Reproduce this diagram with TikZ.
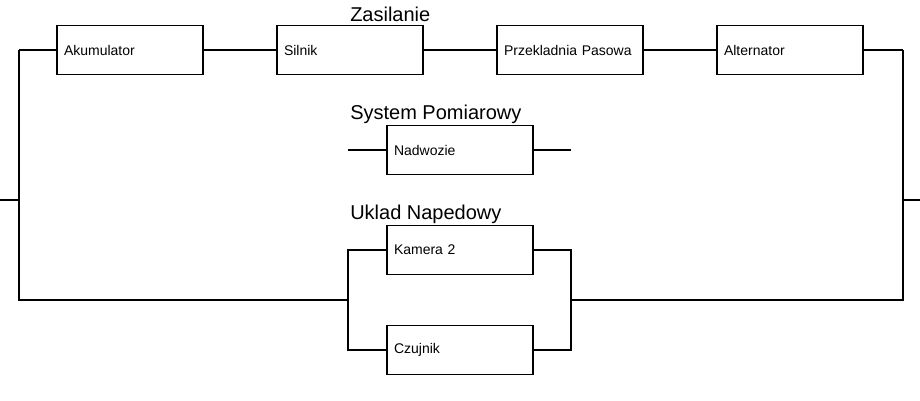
\documentclass[tikz,border=0pt]{standalone}
\usepackage{fontspec}
\setmainfont{Liberation Sans}
\begin{document}
\begin{tikzpicture}[x=0.75pt,y=-0.75pt,
  box/.style={draw, line width=1.1pt, minimum height=36.75pt, inner xsep=5.25pt,
    text width=99pt, align=left, font=\fontsize{10.5}{12}\selectfont},
  title/.style={anchor=base west, inner sep=0pt, font=\fontsize{15}{18}\selectfont},
  thin/.style={line width=0.8pt},
  thick/.style={line width=1.5pt}]
\useasboundingbox (0,0) rectangle (920,400);
% top series
\node[box] (akum) at (130,50) {Akumulator};
\node[box] (siln) at (350,50) {Silnik};
\node[box] (przek) at (570,50) {Przekladnia Pasowa};
\node[box] (alt) at (790,50) {Alternator};
% middle
\node[box] (nadw) at (460,150) {Nadwozie};
% parallel block
\node[box] (kam) at (460,250) {Kamera 2};
\node[box] (czu) at (460,350) {Czujnik};
% titles
\node[title] (t1) at (350,21) {Zasilanie};
\node[title] (t2) at (350,119) {System Pomiarowy};
\node[title] (t3) at (350,219) {Uklad Napedowy};
% coordinates
\coordinate (in) at (0,200);
\coordinate (L) at (19,200);
\coordinate (Ltop) at (19,50);
\coordinate (Lbot) at (19,300);
\coordinate (out) at (920,200);
\coordinate (R) at (903,200);
\coordinate (Rtop) at (903,50);
\coordinate (Rbot) at (903,300);
\coordinate (PL) at (348,300);
\coordinate (PR) at (571,300);
\coordinate (nl) at (348,150);
\coordinate (nr) at (571,150);
% connectors
\draw[thick] (in) -- (L);
\draw[thick] (out) -- (R);
\draw[thick] (Ltop) -- (Lbot) -- (PL);
\draw[thick] (Rtop) -- (Rbot) -- (PR);
\draw[thin] (Ltop) -- (akum.west);
\draw[thin] (akum.east) -- (siln.west);
\draw[thin] (siln.east) -- (przek.west);
\draw[thin] (przek.east) -- (alt.west);
\draw[thin] (alt.east) -- (Rtop);
\draw[thin] (nl) -- (nadw.west);
\draw[thin] (nadw.east) -- (nr);
\draw[thick] (kam.west) -| (PL) |- (czu.west);
\draw[thick] (kam.east) -| (PR) |- (czu.east);
\end{tikzpicture}
\end{document}
